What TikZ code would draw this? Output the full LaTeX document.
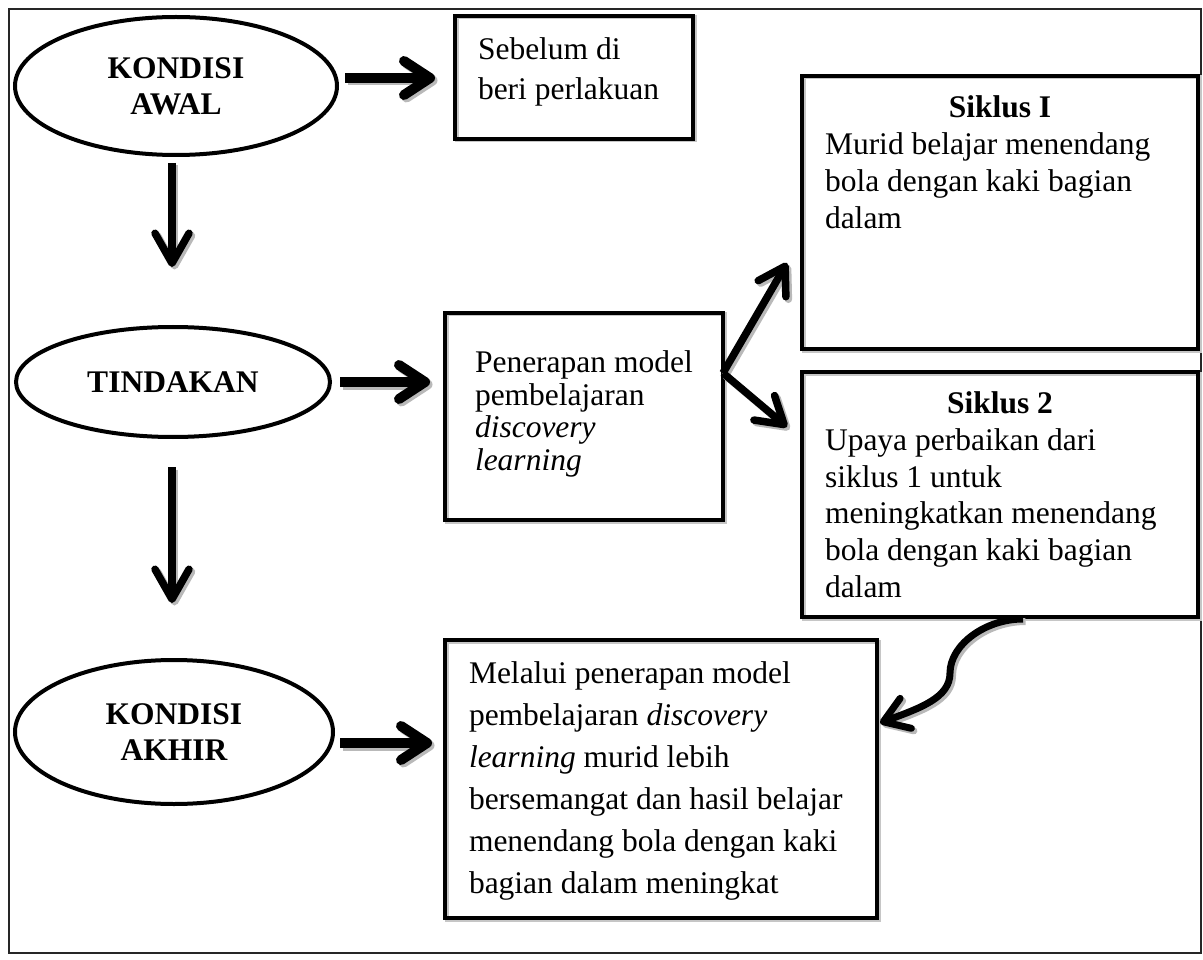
\documentclass[tikz,border=0pt]{standalone}
\usepackage{fontspec}
\setmainfont{Liberation Serif}
\usetikzlibrary{shapes.geometric,arrows.meta,calc}
\newcommand{\bodyfont}[1]{\fontsize{31.5}{#1}\selectfont}
\newcommand{\shadarrow}[2]{\draw[#1,shadowline] #2; \draw[#1] #2;}
\begin{document}
\begin{tikzpicture}[x=1pt,y=-1pt,
  box/.style={draw, line width=4pt, inner sep=0pt, outer sep=0pt, anchor=north west,
              preaction={draw=gray!45, line width=4pt, transform canvas={shift={(1.5pt,-1.5pt)}}}},
  ell/.style={draw, ellipse, line width=4pt, inner sep=0pt, outer sep=0pt, align=center,
              font=\fontsize{31.5}{36}\selectfont\bfseries},
  txt/.style={anchor=base west, inner sep=0pt, outer sep=0pt},
  harr/.style={line width=10pt, -{Straight Barb[length=26pt,width=34pt,line cap=round,line join=round]}},
  varr/.style={line width=7.5pt, -{Straight Barb[length=30pt,width=34pt,line cap=round,line join=round]}},
  darr/.style={line width=7.5pt, -{Straight Barb[length=26pt,width=32pt,line cap=round,line join=round]}},
  carr/.style={line width=7pt, -{Straight Barb[length=24pt,width=32pt,line cap=round,line join=round]}},
  shadowline/.style={draw=gray!55, transform canvas={shift={(2.5pt,-2.5pt)}}}
]
\fill[white] (0,0) rectangle (1203,960);
\useasboundingbox (0,0) rectangle (1203,960);
\draw[line width=1.5pt, black!85] (9,9) rectangle (1201,953);

% ellipses
\node[ell, minimum width=322pt, minimum height=138pt] (e1) at (176,86) {KONDISI\\AWAL};
\node[ell, minimum width=314pt, minimum height=110pt] (e2) at (173,382) {TINDAKAN};
\node[ell, minimum width=318pt, minimum height=144pt] (e3) at (174,732) {KONDISI\\AKHIR};

% boxes
\node[box, minimum width=238pt, minimum height=123pt] (sb) at (455,16) {};
\node[box, minimum width=278pt, minimum height=207pt] (pen) at (445,313) {};
\node[box, minimum width=396pt, minimum height=273pt] (s1) at (802,76) {};
\node[box, minimum width=396pt, minimum height=245pt] (s2) at (802,372) {};
\node[box, minimum width=432pt, minimum height=278pt] (hasil) at (445,640) {};

% texts
\node[txt] (tsb) at (478,60) {\parbox[t]{215pt}{\bodyfont{40}Sebelum di\\beri perlakuan}};
\node[txt] (tpen) at (475,372) {\parbox[t]{240pt}{\bodyfont{33}Penerapan model\\pembelajaran\\\textit{discovery}\\\textit{learning}}};
\node[txt] (ts1) at (825,118) {\parbox[t]{350pt}{\bodyfont{37}{\centering\textbf{Siklus I}\par}\raggedright
  Murid belajar menendang\\bola dengan kaki bagian\\dalam}};
\node[txt] (ts2) at (825,413) {\parbox[t]{350pt}{\bodyfont{37}{\centering\textbf{Siklus 2}\par}\raggedright
  Upaya perbaikan dari\\siklus 1 untuk\\meningkatkan menendang\\bola dengan kaki bagian\\dalam}};
\node[txt] (thasil) at (469,683) {\parbox[t]{400pt}{\bodyfont{42}\raggedright
  Melalui penerapan model\\pembelajaran \textit{discovery}\\\textit{learning} murid lebih\\bersemangat dan hasil belajar\\menendang bola dengan kaki\\bagian dalam meningkat}};

% connectors
\shadarrow{harr, shorten <=8pt, shorten >=20pt}{($(e1.east)+(0,-8)$) -- ($(e1.east -| sb.west)+(0,-8)$)}
\shadarrow{varr, shorten <=8pt, shorten >=60pt}{($(e1.south)+(-4,0)$) -- ($(e1.south |- e2.north)+(-4,0)$)}
\shadarrow{harr, shorten <=10pt, shorten >=15pt}{(e2.east) -- (e2.east -| pen.west)}
\shadarrow{varr, shorten <=30pt, shorten >=57pt}{($(e2.south)+(-1,0)$) -- ($(e2.south |- e3.north)+(-1,0)$)}
\shadarrow{harr, shorten <=7pt, shorten >=13pt}{($(e3.east)+(0,11)$) -- ($(e3.east -| hasil.west)+(0,11)$)}

\coordinate (fork) at ($(pen.north east)!0.29!(pen.south east)$);
\coordinate (s1tip) at ($(s1.south west)+(-15,-86)$);
\coordinate (s2tip) at ($(s2.north west)+(-15,55)$);
\shadarrow{darr}{(fork) -- (s1tip)}
\shadarrow{darr}{(fork) -- (s2tip)}

\coordinate (cs) at ($(s2.south)+(23,2)$);
\coordinate (cm) at ($(s2.south)+(-50,56)$);
\coordinate (ce) at ($(hasil.north east)+(3,83)$);
\shadarrow{carr}{(cs) .. controls +(-38,0) and +(0,-28) .. (cm) .. controls +(0,25) and +(40,-15) .. (ce)}
\end{tikzpicture}
\end{document}
